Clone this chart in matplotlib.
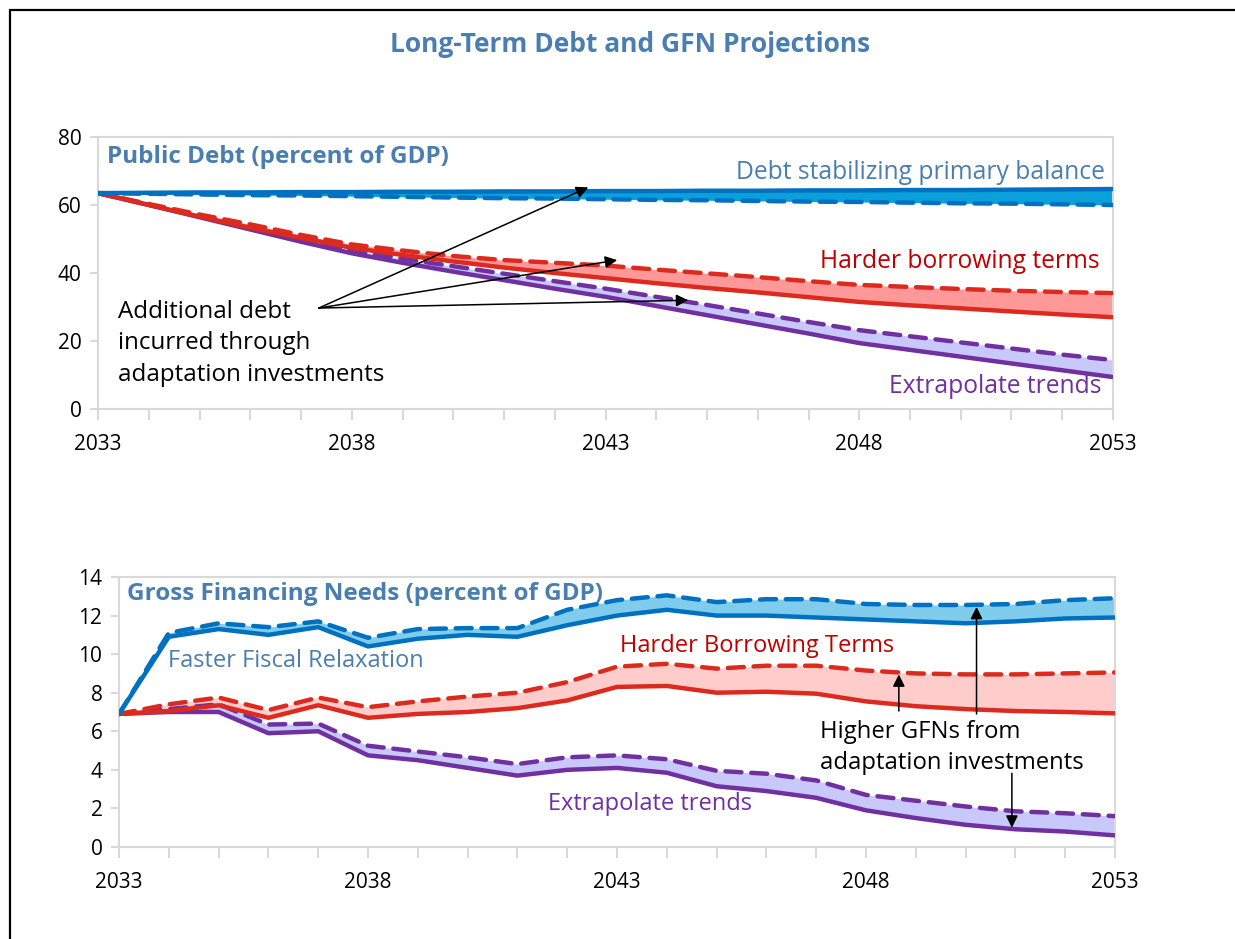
import numpy as np
import matplotlib.pyplot as plt
from matplotlib.patches import Rectangle

plt.rcParams['font.family'] = ['Open Sans', 'DejaVu Sans']

# colours
blue = '#0070C0'
red = '#DC2A1E'
purple = '#7030A0'
txtblue = '#4A7EB0'
txtred = '#C00000'

years = np.arange(2033, 2054)

# public debt (percent of GDP)
debt_stab = [63.5, 63.6, 63.7, 63.7, 63.8, 63.8, 63.9, 63.9, 64.0, 64.0, 64.1,
             64.1, 64.2, 64.2, 64.3, 64.3, 64.4, 64.4, 64.5, 64.6, 64.7]
debt_stab_adapt = [63.5, 63.3, 63.1, 62.9, 62.8, 62.6, 62.4, 62.2, 62.0, 61.9, 61.7,
                   61.5, 61.4, 61.2, 61.0, 60.9, 60.7, 60.5, 60.4, 60.2, 60.0]
debt_hard = [63.5, 60.0, 56.6, 53.3, 50.3, 47.4, 45.3, 43.4, 41.6, 40.0, 38.5,
             37.0, 35.6, 34.3, 32.9, 31.5, 30.5, 29.6, 28.7, 27.8, 27.0]
debt_hard_adapt = [63.5, 60.3, 57.2, 54.3, 51.2, 48.4, 46.6, 45.0, 43.8, 43.0, 42.2,
                   41.0, 39.9, 38.8, 37.6, 36.5, 35.9, 35.3, 34.8, 34.4, 34.1]
debt_trend = [63.5, 60.0, 56.4, 52.8, 49.2, 45.8, 43.0, 40.4, 37.9, 35.4, 33.0,
              30.3, 27.6, 24.9, 22.2, 19.4, 17.4, 15.4, 13.4, 11.4, 9.4]
debt_trend_adapt = [63.5, 60.1, 56.7, 53.3, 49.9, 46.6, 44.2, 42.0, 39.8, 37.6, 35.4,
                    33.0, 30.6, 28.1, 25.6, 23.2, 21.4, 19.6, 17.8, 16.0, 14.4]

# gross financing needs (percent of GDP)
gfn_fast = [6.9, 10.9, 11.3, 11.0, 11.4, 10.4, 10.8, 11.0, 10.9, 11.5, 12.0,
            12.3, 12.0, 12.0, 11.9, 11.8, 11.7, 11.6, 11.7, 11.85, 11.9]
gfn_fast_adapt = [6.9, 11.1, 11.6, 11.4, 11.7, 10.85, 11.3, 11.35, 11.35, 12.3, 12.8,
                  13.05, 12.7, 12.85, 12.85, 12.6, 12.55, 12.55, 12.6, 12.8, 12.9]
gfn_hard = [6.9, 7.05, 7.35, 6.7, 7.35, 6.7, 6.9, 7.0, 7.2, 7.6, 8.3,
            8.35, 8.0, 8.05, 7.95, 7.55, 7.3, 7.15, 7.05, 7.0, 6.93]
gfn_hard_adapt = [6.9, 7.4, 7.75, 7.1, 7.75, 7.25, 7.55, 7.8, 8.0, 8.55, 9.35,
                  9.5, 9.25, 9.4, 9.4, 9.15, 9.0, 8.95, 8.95, 9.0, 9.05]
gfn_trend = [6.9, 7.0, 7.0, 5.9, 6.0, 4.75, 4.5, 4.1, 3.7, 4.0, 4.1,
             3.85, 3.15, 2.9, 2.55, 1.9, 1.5, 1.15, 0.92, 0.8, 0.6]
gfn_trend_adapt = [6.9, 7.15, 7.4, 6.35, 6.4, 5.25, 4.95, 4.65, 4.3, 4.65, 4.75,
                   4.55, 3.95, 3.8, 3.45, 2.7, 2.4, 2.1, 1.85, 1.75, 1.6]

fig = plt.figure(figsize=(12.35, 9.39), dpi=100)
ax1 = fig.add_axes([0.0794, 0.5644, 0.8218, 0.2897])
ax2 = fig.add_axes([0.0964, 0.0980, 0.8064, 0.2875])

# outer frame (only top and left visible)
fig.patches.append(Rectangle((0.0081, -0.05), 1.1, 0.9894 + 0.05, transform=fig.transFigure,
                             fill=False, lw=1.6, ec='black'))

fig.text(0.51, 0.953, 'Long-Term Debt and GFN Projections', ha='center', va='center',
         fontsize=19, fontweight='bold', color=txtblue)

lw = 3.2
dash = dict(ls=(0, (3.6, 2.2)), dash_capstyle='round')


def panel(ax, series, fills):
    # purple first, red over it, blue on top
    for (solid, dashed, col), fc in list(zip(series, fills))[::-1]:
        ax.fill_between(years, solid, dashed, color=fc, lw=0, zorder=1)
        ax.plot(years, solid, color=col, lw=lw, zorder=3, solid_capstyle='butt')
        ax.plot(years, dashed, color=col, lw=lw, zorder=3, **dash)
    ax.set_xlim(2033, 2053)
    ax.set_xticks([2033, 2038, 2043, 2048, 2053])
    ax.set_xticks(years, minor=True)
    for s in ax.spines.values():
        s.set_color('#D9D9D9')
        s.set_linewidth(1.5)
    ax.tick_params(axis='x', which='both', length=8, width=1.5, color='#D9D9D9',
                   labelsize=15, pad=10)
    ax.tick_params(axis='y', length=6, width=1.5, color='#D9D9D9', labelsize=15, pad=6)


panel(ax1,
      [(debt_stab, debt_stab_adapt, blue),
       (debt_hard, debt_hard_adapt, red),
       (debt_trend, debt_trend_adapt, purple)],
      ['#0AA0DC', '#FF9999', '#C8C8FA'])
ax1.set_ylim(0, 80)
ax1.set_yticks([0, 20, 40, 60, 80])

ax1.text(2033.18, 74, 'Public Debt (percent of GDP)', fontsize=17.5, fontweight='bold',
         color=txtblue, va='center', ha='left')
ax1.text(2052.84, 69.6, 'Debt stabilizing primary balance', fontsize=17.7, color=txtblue,
         ha='right', va='center')
ax1.text(2052.74, 43.4, 'Harder borrowing terms', fontsize=17.7, color=txtred,
         ha='right', va='center')
ax1.text(2052.78, 6.5, 'Extrapolate trends', fontsize=17.7, color=purple,
         ha='right', va='center')
ax1.text(2033.39, 19.3, 'Additional debt\nincurred through\nadaptation investments',
         fontsize=17.4, color='black', ha='left', va='center', linespacing=1.42)
tail = (2037.35, 29.7)
for tip in [(2042.66, 65.2), (2043.23, 43.8), (2044.63, 32.0)]:
    ax1.annotate('', xy=tip, xytext=tail,
                 arrowprops=dict(arrowstyle='-|>', color='black', lw=1.1,
                                 mutation_scale=18, shrinkA=0, shrinkB=0), zorder=5)

panel(ax2,
      [(gfn_fast, gfn_fast_adapt, blue),
       (gfn_hard, gfn_hard_adapt, red),
       (gfn_trend, gfn_trend_adapt, purple)],
      ['#7FCCEC', '#FFCCCC', '#C8C8FA'])
ax2.set_ylim(0, 14)
ax2.set_yticks(np.arange(0, 15, 2))

ax2.text(2033.16, 13.1, 'Gross Financing Needs (percent of GDP)', fontsize=17.5,
         fontweight='bold', color=txtblue, va='center', ha='left')
ax2.text(2033.98, 9.65, 'Faster Fiscal Relaxation', fontsize=17, color=txtblue,
         ha='left', va='center')
ax2.text(2043.06, 10.4, 'Harder Borrowing Terms', fontsize=17, color=txtred,
         ha='left', va='center')
ax2.text(2041.61, 2.25, 'Extrapolate trends', fontsize=17, color=purple,
         ha='left', va='center')
ax2.text(2047.08, 5.15, 'Higher GFNs from\nadaptation investments', fontsize=17.2,
         color='black', ha='left', va='center', linespacing=1.42)
for x0, y0, y1 in [(2048.66, 7.05, 8.95), (2050.22, 6.9, 12.45), (2050.93, 3.82, 1.0)]:
    ax2.annotate('', xy=(x0, y1), xytext=(x0, y0),
                 arrowprops=dict(arrowstyle='-|>', color='black', lw=1.1,
                                 mutation_scale=18, shrinkA=0, shrinkB=0), zorder=5)

fig.savefig('out.png', dpi=100)
